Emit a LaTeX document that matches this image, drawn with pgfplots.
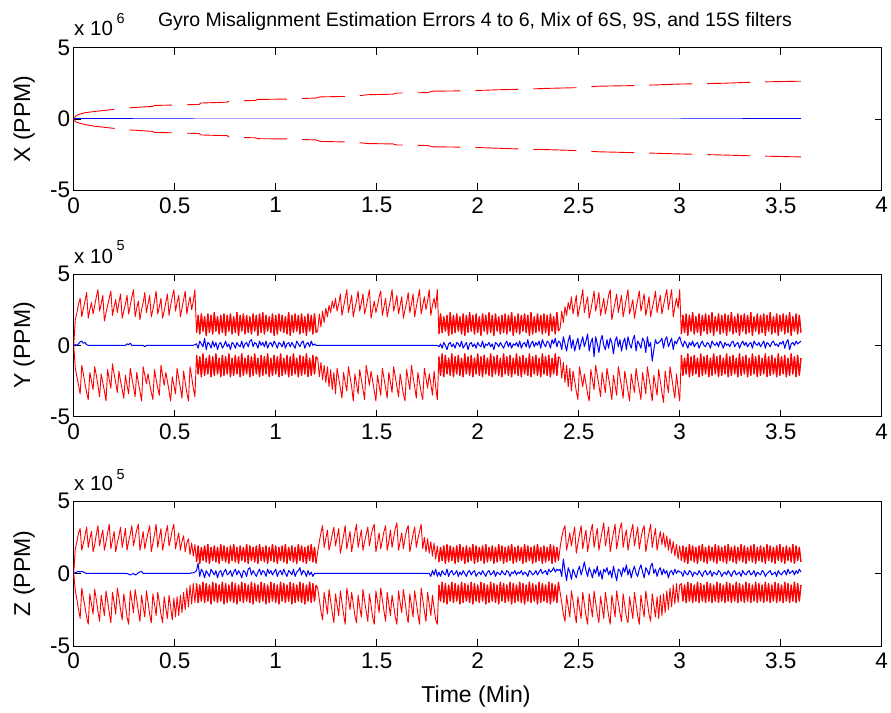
\documentclass[border=0pt]{standalone}
\usepackage{fontspec}
\setmainfont{Liberation Sans}
\usepackage{pgfplots}
\usepackage{pgfplotstable}
\pgfplotsset{compat=1.18}

% ---------- Y subplot (x1e5), sampled every 0.008 min ----------
\pgfplotstableread[header=false,row sep=\\]{
0\\
1.8\\2.3\\2.9\\3.3\\2.0\\2.6\\3.1\\3.7\\1.9\\2.5\\
3.0\\2.2\\2.8\\3.4\\3.9\\2.4\\2.9\\3.5\\1.7\\2.3\\
2.8\\3.3\\3.8\\2.1\\2.7\\3.2\\2.3\\3.0\\3.6\\1.9\\
2.4\\2.9\\3.5\\2.2\\2.8\\3.4\\3.9\\2.0\\2.6\\3.1\\
1.8\\2.5\\3.0\\3.7\\2.3\\2.9\\3.5\\2.0\\2.5\\3.1\\
3.8\\2.2\\2.7\\3.3\\1.9\\2.4\\3.0\\3.6\\2.1\\2.8\\
3.4\\3.9\\2.4\\3.0\\3.5\\2.0\\2.6\\3.2\\3.8\\2.2\\
2.9\\3.4\\2.5\\3.1\\3.9\\
0.9\\2.1\\0.8\\2.2\\1.0\\2.0\\0.7\\2.2\\0.9\\2.1\\
0.8\\2.3\\1.0\\2.0\\0.8\\2.1\\0.9\\2.2\\0.7\\2.1\\
1.0\\2.2\\0.8\\2.0\\0.9\\2.3\\0.7\\2.1\\1.0\\2.2\\
0.8\\2.1\\0.9\\2.0\\0.8\\2.2\\1.0\\2.1\\0.7\\2.2\\
0.9\\2.3\\0.8\\2.1\\1.0\\2.0\\0.9\\2.2\\0.7\\2.1\\
0.8\\2.2\\1.0\\2.1\\0.9\\2.0\\0.8\\2.3\\0.7\\2.1\\
0.9\\2.2\\1.0\\2.1\\0.8\\2.2\\0.9\\2.0\\0.7\\2.2\\
1.0\\2.1\\0.8\\2.2\\0.9\\
1.0\\2.2\\1.3\\2.4\\1.6\\2.6\\2.0\\2.8\\2.3\\3.1\\
2.6\\3.3\\2.4\\2.9\\3.6\\2.1\\2.7\\3.3\\3.9\\2.3\\
2.9\\3.5\\2.0\\2.6\\3.1\\3.8\\2.4\\3.0\\3.6\\2.2\\
2.7\\3.3\\3.9\\1.9\\2.5\\3.1\\2.3\\2.8\\3.4\\3.8\\
2.1\\2.7\\3.3\\2.0\\2.6\\3.2\\3.9\\2.4\\2.9\\3.5\\
2.2\\2.8\\3.4\\1.9\\2.5\\3.0\\3.7\\2.3\\2.9\\3.6\\
2.0\\2.7\\3.3\\3.9\\2.2\\2.8\\3.4\\2.5\\3.1\\3.9\\
2.1\\2.8\\3.3\\2.6\\3.9\\
0.8\\2.2\\0.9\\2.0\\1.0\\2.1\\0.7\\2.3\\0.8\\2.1\\
0.9\\2.2\\1.0\\2.0\\0.8\\2.2\\0.7\\2.1\\0.9\\2.3\\
1.0\\2.1\\0.8\\2.2\\0.9\\2.0\\0.7\\2.2\\1.0\\2.1\\
0.8\\2.3\\0.9\\2.1\\0.7\\2.2\\1.0\\2.0\\0.8\\2.1\\
0.9\\2.2\\0.8\\2.1\\1.0\\2.3\\0.7\\2.0\\0.9\\2.2\\
0.8\\2.1\\1.0\\2.2\\0.9\\2.1\\0.7\\2.3\\0.8\\2.0\\
0.9\\2.2\\1.0\\2.1\\0.8\\2.2\\0.9\\2.1\\0.7\\2.2\\
1.0\\2.0\\0.8\\2.3\\1.0\\
1.2\\2.4\\1.6\\2.7\\2.1\\3.0\\2.5\\3.4\\2.2\\2.8\\
3.5\\2.0\\2.6\\3.2\\3.9\\2.3\\2.9\\3.4\\1.9\\2.5\\
3.1\\3.8\\2.4\\3.0\\3.7\\2.1\\2.7\\3.3\\2.2\\2.8\\
3.5\\3.9\\1.8\\2.4\\3.0\\3.6\\2.3\\2.9\\3.5\\2.0\\
2.6\\3.3\\3.9\\2.2\\2.7\\3.2\\1.9\\2.6\\3.2\\3.8\\
2.4\\3.0\\3.6\\2.1\\2.7\\3.4\\2.0\\2.6\\3.1\\3.8\\
2.3\\2.9\\3.5\\2.2\\2.8\\3.4\\3.9\\2.5\\3.2\\3.9\\
2.0\\2.7\\3.3\\2.6\\3.9\\
0.8\\2.1\\0.9\\2.2\\0.7\\2.1\\1.0\\2.3\\0.8\\2.0\\
0.9\\2.2\\0.7\\2.1\\1.0\\2.2\\0.8\\2.1\\0.9\\2.3\\
0.7\\2.0\\1.0\\2.2\\0.8\\2.1\\0.9\\2.2\\0.7\\2.1\\
1.0\\2.3\\0.8\\2.0\\0.9\\2.2\\0.7\\2.1\\1.0\\2.2\\
0.8\\2.1\\0.9\\2.3\\0.7\\2.0\\1.0\\2.2\\0.8\\2.1\\
0.9\\2.2\\0.7\\2.1\\1.0\\2.3\\0.8\\2.0\\0.9\\2.2\\
0.7\\2.1\\1.0\\2.2\\0.8\\2.1\\0.9\\2.3\\0.7\\2.0\\
1.0\\2.2\\0.8\\2.1\\0.9\\
}\YU

\pgfplotstableread[header=false,row sep=\\]{
0\\
-1.6\\-2.2\\-2.8\\-3.4\\-1.4\\-2.0\\-2.7\\-3.3\\-3.8\\-1.9\\
-2.5\\-3.1\\-1.5\\-2.1\\-2.8\\-3.6\\-2.0\\-2.6\\-3.2\\-3.9\\
-1.7\\-2.4\\-3.0\\-1.3\\-2.0\\-2.6\\-3.3\\-1.8\\-2.5\\-3.1\\
-3.7\\-2.1\\-2.8\\-3.4\\-1.6\\-2.3\\-2.9\\-3.6\\-1.9\\-2.6\\
-3.2\\-3.9\\-1.5\\-2.1\\-2.7\\-2.0\\-2.7\\-3.3\\-3.8\\-1.7\\
-2.4\\-3.0\\-3.5\\-1.4\\-2.1\\-2.8\\-1.9\\-2.5\\-3.2\\-3.9\\
-2.2\\-2.8\\-3.4\\-1.6\\-2.3\\-3.0\\-3.7\\-1.8\\-2.6\\-3.3\\
-3.9\\-1.5\\-2.2\\-3.0\\-3.6\\
-0.7\\-2.0\\-0.8\\-2.2\\-0.6\\-2.1\\-0.9\\-2.0\\-0.7\\-2.2\\
-0.8\\-2.1\\-0.6\\-2.0\\-0.9\\-2.2\\-0.7\\-2.1\\-0.8\\-2.0\\
-0.6\\-2.2\\-0.9\\-2.1\\-0.7\\-2.0\\-0.8\\-2.2\\-0.6\\-2.1\\
-0.9\\-2.0\\-0.7\\-2.2\\-0.8\\-2.1\\-0.6\\-2.0\\-0.9\\-2.2\\
-0.7\\-2.1\\-0.8\\-2.0\\-0.6\\-2.2\\-0.9\\-2.1\\-0.7\\-2.0\\
-0.8\\-2.2\\-0.6\\-2.1\\-0.9\\-2.0\\-0.7\\-2.2\\-0.8\\-2.1\\
-0.6\\-2.0\\-0.9\\-2.2\\-0.7\\-2.1\\-0.8\\-2.0\\-0.6\\-2.2\\
-0.9\\-2.1\\-0.7\\-2.0\\-0.8\\
-0.9\\-2.2\\-1.2\\-2.4\\-1.4\\-2.6\\-1.5\\-2.9\\-1.7\\-3.1\\
-1.9\\-3.4\\-1.6\\-2.3\\-3.0\\-3.7\\-1.9\\-2.6\\-3.2\\-1.5\\
-2.2\\-2.9\\-3.9\\-2.0\\-2.7\\-3.4\\-1.7\\-2.4\\-3.1\\-3.8\\
-1.4\\-2.1\\-2.8\\-1.8\\-2.5\\-3.2\\-3.9\\-2.1\\-2.8\\-3.5\\
-1.6\\-2.3\\-3.0\\-3.7\\-1.9\\-2.6\\-3.3\\-1.5\\-2.2\\-2.9\\
-3.6\\-2.0\\-2.7\\-3.4\\-3.9\\-1.7\\-2.4\\-3.1\\-1.4\\-2.2\\
-2.9\\-3.7\\-1.9\\-2.6\\-3.3\\-3.8\\-1.6\\-2.3\\-3.0\\-2.0\\
-2.7\\-3.5\\-1.8\\-2.9\\-3.8\\
-0.8\\-2.1\\-0.6\\-2.2\\-0.7\\-2.0\\-0.9\\-2.1\\-0.6\\-2.2\\
-0.8\\-2.0\\-0.7\\-2.1\\-0.9\\-2.2\\-0.6\\-2.0\\-0.8\\-2.1\\
-0.7\\-2.2\\-0.9\\-2.0\\-0.6\\-2.1\\-0.8\\-2.2\\-0.7\\-2.0\\
-0.9\\-2.1\\-0.6\\-2.2\\-0.8\\-2.0\\-0.7\\-2.1\\-0.9\\-2.2\\
-0.6\\-2.0\\-0.8\\-2.1\\-0.7\\-2.2\\-0.9\\-2.0\\-0.6\\-2.1\\
-0.8\\-2.2\\-0.7\\-2.0\\-0.9\\-2.1\\-0.6\\-2.2\\-0.8\\-2.0\\
-0.7\\-2.1\\-0.9\\-2.2\\-0.6\\-2.0\\-0.8\\-2.1\\-0.7\\-2.2\\
-0.9\\-2.0\\-0.6\\-2.1\\-0.8\\
-0.9\\-2.3\\-1.2\\-2.6\\-1.4\\-2.9\\-1.6\\-3.2\\-1.8\\-2.5\\
-3.2\\-3.8\\-1.5\\-2.2\\-2.9\\-2.0\\-2.7\\-3.4\\-3.9\\-1.7\\
-2.4\\-3.1\\-1.4\\-2.1\\-2.8\\-3.6\\-1.9\\-2.6\\-3.3\\-1.6\\
-2.3\\-3.0\\-3.8\\-2.1\\-2.8\\-3.5\\-1.5\\-2.2\\-2.9\\-3.7\\
-1.8\\-2.5\\-3.2\\-3.9\\-2.0\\-2.7\\-3.3\\-1.6\\-2.4\\-3.1\\
-3.8\\-1.9\\-2.6\\-3.4\\-1.5\\-2.3\\-3.0\\-3.9\\-2.1\\-2.8\\
-3.5\\-1.7\\-2.5\\-3.3\\-4.0\\-1.8\\-2.6\\-3.3\\-1.5\\-2.2\\
-3.0\\-3.7\\-2.0\\-3.0\\-3.9\\
-0.7\\-2.1\\-0.9\\-2.0\\-0.6\\-2.2\\-0.8\\-2.1\\-0.7\\-2.0\\
-0.9\\-2.2\\-0.6\\-2.1\\-0.8\\-2.0\\-0.7\\-2.2\\-0.9\\-2.1\\
-0.6\\-2.0\\-0.8\\-2.2\\-0.7\\-2.1\\-0.9\\-2.0\\-0.6\\-2.2\\
-0.8\\-2.1\\-0.7\\-2.0\\-0.9\\-2.2\\-0.6\\-2.1\\-0.8\\-2.0\\
-0.7\\-2.2\\-0.9\\-2.1\\-0.6\\-2.0\\-0.8\\-2.2\\-0.7\\-2.1\\
-0.9\\-2.0\\-0.6\\-2.2\\-0.8\\-2.1\\-0.7\\-2.0\\-0.9\\-2.2\\
-0.6\\-2.1\\-0.8\\-2.0\\-0.7\\-2.2\\-0.9\\-2.1\\-0.6\\-2.0\\
-0.8\\-2.2\\-0.7\\-2.1\\-0.9\\
}\YL

\pgfplotstableread[header=false,row sep=\\]{
0\\
0.05\\0\\0.1\\0.25\\0.3\\0.15\\0.2\\0.05\\0\\0\\
0\\0\\0\\0\\0\\0\\0\\0\\0\\0\\
0\\0\\0\\0\\0\\0\\0\\0\\0\\0\\
0\\0\\0.1\\0.05\\0.15\\0\\0\\0\\0\\0\\
0\\0\\0\\-0.1\\0\\0\\0\\0\\0\\0\\
0\\0\\0\\0\\0\\0\\0\\0\\0\\0\\
0\\0\\0\\0\\0\\0\\0\\0\\0\\0\\
0\\0\\0\\0\\0.05\\
0.1\\-0.2\\0.3\\0.1\\-0.1\\0.5\\-0.3\\0.2\\0.1\\-0.2\\
0.3\\-0.1\\0.2\\-0.3\\0.1\\0.2\\-0.2\\0.0\\0.3\\-0.1\\
0.1\\-0.3\\0.2\\0.1\\-0.2\\0.2\\0.0\\-0.1\\0.3\\-0.2\\
0.1\\0.2\\-0.1\\0.3\\0.4\\-0.1\\0.2\\0.1\\-0.2\\0.3\\
0.0\\0.2\\-0.1\\0.3\\-0.2\\0.1\\0.2\\-0.1\\0.3\\0.1\\
-0.2\\0.2\\0.1\\-0.1\\0.3\\-0.2\\0.1\\0.2\\-0.1\\0.2\\
0.0\\-0.2\\0.3\\0.1\\-0.1\\0.2\\0.3\\-0.2\\0.1\\0.2\\
-0.1\\0.3\\0.0\\0.1\\0.0\\
0\\0\\0\\0\\0\\0\\0\\0\\0\\0\\
0\\0\\0\\0\\0\\0\\0\\0\\0\\0\\
0\\0\\0\\0\\0\\0\\0\\0\\0\\0\\
0\\0\\0\\0\\0\\0\\0\\0\\0\\0\\
0\\0\\0\\0\\0\\0\\0\\0\\0\\0\\
0\\0\\0\\0\\0\\0\\0\\0\\0\\0\\
0\\0\\0\\0\\0\\0\\0\\0\\0\\0\\
0\\0\\0\\0\\0\\
-0.1\\0.1\\-0.2\\0.2\\0.0\\-0.3\\0.1\\0.2\\-0.1\\0.1\\
-0.2\\0.2\\0.1\\-0.1\\0.3\\-0.2\\0.0\\0.2\\-0.3\\0.1\\
0.2\\-0.1\\0.1\\-0.2\\0.2\\0.0\\-0.1\\0.3\\-0.2\\0.1\\
0.0\\0.2\\-0.1\\0.1\\-0.3\\0.2\\0.1\\-0.1\\0.2\\0.0\\
-0.2\\0.1\\0.3\\-0.1\\0.2\\-0.2\\0.1\\0.0\\0.2\\-0.1\\
0.3\\-0.2\\0.1\\0.2\\-0.1\\0.4\\-0.2\\0.1\\0.3\\-0.1\\
0.2\\0.0\\0.3\\-0.2\\0.4\\0.1\\-0.1\\0.3\\0.2\\-0.2\\
0.4\\0.1\\0.5\\-0.1\\0.3\\
0.2\\-0.3\\0.6\\0.1\\-0.4\\0.3\\0.7\\-0.2\\0.4\\-0.4\\
0.1\\0.5\\-0.3\\0.2\\0.6\\-0.1\\0.3\\0.8\\-0.4\\0.2\\
0.5\\-0.8\\0.6\\0.1\\-0.5\\0.3\\0.7\\0.0\\-0.3\\0.4\\
-0.2\\0.5\\0.2\\-0.6\\0.3\\0.6\\-0.1\\0.4\\-0.4\\0.2\\
0.5\\-0.3\\0.6\\0.1\\-0.2\\0.4\\0.7\\-0.4\\0.3\\0.1\\
-0.2\\0.5\\0.3\\-0.5\\0.6\\-0.1\\0.2\\-1.1\\-0.3\\0.4\\
0.1\\0.2\\0.3\\0.5\\-0.2\\0.4\\0.6\\-0.1\\0.2\\0.5\\
-0.3\\0.3\\0.1\\0.4\\0.6\\
0.2\\-0.1\\0.3\\0.1\\-0.2\\0.2\\0.0\\0.3\\-0.1\\0.1\\
0.2\\-0.2\\0.1\\0.3\\0.0\\-0.1\\0.2\\0.1\\-0.2\\0.3\\
0.1\\0.0\\0.2\\-0.1\\0.3\\0.1\\-0.2\\0.2\\0.0\\0.1\\
-0.1\\0.2\\0.3\\-0.1\\0.1\\0.2\\-0.2\\0.1\\0.3\\0.0\\
0.2\\-0.1\\0.1\\0.2\\-0.2\\0.3\\0.1\\0.0\\0.2\\-0.1\\
0.1\\0.3\\-0.2\\0.2\\0.1\\-0.1\\0.2\\0.3\\0.0\\0.1\\
-0.1\\0.2\\0.1\\0.3\\-0.2\\0.2\\0.4\\-0.3\\0.1\\0.2\\
0.0\\0.3\\0.1\\0.2\\0.3\\
}\YB

% ---------- Z subplot (x1e5) ----------
\pgfplotstableread[header=false,row sep=\\]{
0\\
1.7\\2.2\\2.8\\3.1\\1.6\\2.1\\2.6\\3.2\\1.8\\2.4\\
2.9\\1.5\\2.0\\2.7\\3.3\\1.9\\2.5\\3.0\\1.6\\2.2\\
2.8\\3.4\\1.7\\2.3\\2.9\\1.5\\2.1\\2.6\\3.2\\1.8\\
2.4\\3.1\\1.6\\2.2\\2.7\\3.3\\1.9\\2.5\\3.0\\3.4\\
1.6\\2.2\\2.9\\1.7\\2.3\\2.8\\3.3\\1.5\\2.1\\2.7\\
3.4\\1.8\\2.5\\3.1\\1.6\\2.2\\2.8\\3.3\\1.9\\2.4\\
3.0\\3.4\\1.7\\2.3\\2.8\\1.6\\2.2\\2.6\\1.5\\2.1\\
2.4\\1.3\\2.1\\1.2\\2.0\\
0.8\\1.9\\0.7\\1.8\\0.9\\1.9\\0.8\\2.0\\0.7\\1.8\\
0.9\\1.9\\0.8\\1.8\\0.7\\2.0\\0.9\\1.9\\0.8\\1.8\\
0.7\\1.9\\0.9\\2.0\\0.8\\1.8\\0.7\\1.9\\0.9\\1.8\\
0.8\\2.0\\0.7\\1.9\\0.9\\1.8\\0.8\\1.9\\0.7\\2.0\\
0.9\\1.8\\0.8\\1.9\\0.7\\1.8\\0.9\\2.0\\0.8\\1.9\\
0.7\\1.8\\0.9\\1.9\\0.8\\2.0\\0.7\\1.8\\0.9\\1.9\\
0.8\\1.8\\0.7\\2.0\\0.9\\1.9\\0.8\\1.8\\0.7\\1.9\\
0.9\\2.0\\0.8\\1.8\\0.7\\
1.5\\2.2\\2.8\\3.3\\1.8\\2.4\\3.0\\1.6\\2.1\\2.7\\
3.2\\1.9\\2.5\\3.1\\1.4\\2.0\\2.6\\3.3\\1.7\\2.3\\
2.9\\1.5\\2.2\\2.8\\3.4\\1.8\\2.4\\3.0\\1.6\\2.2\\
2.7\\3.2\\1.9\\2.6\\3.1\\3.4\\1.5\\2.1\\2.8\\1.7\\
2.3\\2.9\\3.3\\1.6\\2.2\\3.0\\1.8\\2.5\\3.1\\3.5\\
1.6\\2.2\\2.8\\1.7\\2.4\\3.0\\3.3\\1.5\\2.1\\2.7\\
3.2\\1.8\\2.4\\2.9\\3.4\\1.7\\2.5\\1.5\\2.4\\1.4\\
2.2\\1.2\\2.1\\1.0\\1.9\\
0.8\\1.8\\0.9\\1.9\\0.7\\2.0\\0.8\\1.9\\0.9\\1.8\\
0.7\\1.9\\0.8\\2.0\\0.9\\1.8\\0.7\\1.9\\0.8\\1.8\\
0.9\\2.0\\0.7\\1.9\\0.8\\1.8\\0.9\\1.9\\0.7\\2.0\\
0.8\\1.8\\0.9\\1.9\\0.7\\1.8\\0.8\\2.0\\0.9\\1.9\\
0.7\\1.8\\0.8\\1.9\\0.9\\2.0\\0.7\\1.8\\0.8\\1.9\\
0.9\\1.8\\0.7\\2.0\\0.8\\1.9\\0.9\\1.8\\0.7\\1.9\\
0.8\\2.0\\0.9\\1.8\\0.7\\1.9\\0.8\\1.8\\0.9\\2.0\\
0.7\\1.9\\0.8\\1.8\\0.9\\
1.8\\2.5\\3.0\\3.3\\1.6\\2.2\\2.8\\1.9\\2.6\\3.2\\
1.4\\2.1\\2.7\\3.3\\1.7\\2.4\\3.0\\1.5\\2.2\\2.9\\
3.4\\1.8\\2.5\\3.1\\1.6\\2.3\\2.9\\3.5\\1.9\\2.5\\
3.2\\1.5\\2.2\\2.8\\3.4\\1.7\\2.4\\3.1\\3.5\\1.8\\
2.5\\3.0\\1.6\\2.3\\2.9\\3.4\\1.9\\2.6\\3.2\\1.7\\
2.4\\3.0\\3.3\\1.5\\2.2\\2.8\\3.4\\1.8\\2.5\\3.1\\
1.6\\2.3\\2.9\\2.0\\2.8\\1.8\\2.6\\1.6\\2.4\\1.4\\
2.2\\1.2\\2.0\\1.0\\1.9\\
0.9\\1.9\\0.8\\1.8\\0.7\\2.0\\0.9\\1.9\\0.8\\1.8\\
0.7\\1.9\\0.9\\2.0\\0.8\\1.8\\0.7\\1.9\\0.9\\1.8\\
0.8\\2.0\\0.7\\1.9\\0.9\\1.8\\0.8\\1.9\\0.7\\2.0\\
0.9\\1.8\\0.8\\1.9\\0.7\\1.8\\0.9\\2.0\\0.8\\1.9\\
0.7\\1.8\\0.9\\1.9\\0.8\\2.0\\0.7\\1.8\\0.9\\1.9\\
0.8\\1.8\\0.7\\2.0\\0.9\\1.9\\0.8\\1.8\\0.7\\1.9\\
0.9\\2.0\\0.8\\1.8\\0.7\\1.9\\0.9\\1.8\\0.8\\2.0\\
0.7\\1.9\\0.9\\1.8\\0.8\\
}\ZU

\pgfplotstableread[header=false,row sep=\\]{
0\\
-1.2\\-1.8\\-2.5\\-3.1\\-1.0\\-1.7\\-2.3\\-3.0\\-3.5\\-1.4\\
-2.1\\-2.8\\-1.1\\-1.8\\-2.6\\-3.3\\-1.5\\-2.2\\-2.9\\-1.2\\
-1.9\\-2.7\\-3.4\\-1.3\\-2.0\\-2.8\\-1.0\\-1.7\\-2.5\\-3.2\\
-1.4\\-2.2\\-3.0\\-3.5\\-1.2\\-1.9\\-2.7\\-1.1\\-1.8\\-2.6\\
-3.3\\-1.5\\-2.3\\-3.0\\-1.2\\-2.0\\-2.8\\-3.4\\-1.4\\-2.1\\
-2.9\\-1.3\\-2.0\\-2.8\\-3.4\\-1.6\\-2.4\\-3.1\\-1.5\\-2.3\\
-3.2\\-1.7\\-3.0\\-1.6\\-2.9\\-1.5\\-2.7\\-1.3\\-2.5\\-1.0\\
-2.3\\-0.8\\-2.1\\-0.7\\-2.0\\
-0.7\\-2.0\\-0.8\\-1.9\\-0.6\\-2.0\\-0.7\\-1.9\\-0.8\\-2.1\\
-0.6\\-1.9\\-0.7\\-2.0\\-0.8\\-1.9\\-0.6\\-2.1\\-0.7\\-2.0\\
-0.8\\-1.9\\-0.6\\-2.0\\-0.7\\-2.1\\-0.8\\-1.9\\-0.6\\-2.0\\
-0.7\\-1.9\\-0.8\\-2.0\\-0.6\\-2.1\\-0.7\\-1.9\\-0.8\\-2.0\\
-0.6\\-1.9\\-0.7\\-2.1\\-0.8\\-2.0\\-0.6\\-1.9\\-0.7\\-2.0\\
-0.8\\-2.1\\-0.6\\-1.9\\-0.7\\-2.0\\-0.8\\-1.9\\-0.6\\-2.1\\
-0.7\\-2.0\\-0.8\\-1.9\\-0.6\\-2.0\\-0.7\\-2.1\\-0.8\\-1.9\\
-0.6\\-2.0\\-0.7\\-1.9\\-0.8\\
-1.0\\-1.8\\-2.6\\-3.2\\-1.3\\-2.0\\-2.8\\-1.1\\-1.9\\-2.7\\
-3.4\\-1.4\\-2.2\\-2.9\\-1.2\\-2.0\\-2.8\\-3.5\\-1.0\\-1.7\\
-2.5\\-1.3\\-2.1\\-2.9\\-3.4\\-1.5\\-2.3\\-3.0\\-1.1\\-1.9\\
-2.6\\-3.3\\-1.4\\-2.2\\-3.0\\-3.5\\-1.2\\-1.9\\-2.7\\-1.0\\
-1.8\\-2.6\\-3.3\\-1.3\\-2.1\\-2.9\\-1.5\\-2.2\\-3.0\\-3.5\\
-1.2\\-2.0\\-2.7\\-1.1\\-1.9\\-2.8\\-3.4\\-1.4\\-2.2\\-3.0\\
-1.2\\-2.0\\-2.8\\-3.5\\-1.0\\-1.8\\-2.6\\-3.3\\-1.3\\-2.1\\
-2.9\\-1.5\\-2.4\\-3.2\\-3.5\\
-0.8\\-1.9\\-0.6\\-2.0\\-0.7\\-2.1\\-0.8\\-1.9\\-0.6\\-2.0\\
-0.7\\-1.9\\-0.8\\-2.1\\-0.6\\-2.0\\-0.7\\-1.9\\-0.8\\-2.0\\
-0.6\\-2.1\\-0.7\\-1.9\\-0.8\\-2.0\\-0.6\\-1.9\\-0.7\\-2.1\\
-0.8\\-2.0\\-0.6\\-1.9\\-0.7\\-2.0\\-0.8\\-2.1\\-0.6\\-1.9\\
-0.7\\-2.0\\-0.8\\-1.9\\-0.6\\-2.1\\-0.7\\-2.0\\-0.8\\-1.9\\
-0.6\\-2.0\\-0.7\\-2.1\\-0.8\\-1.9\\-0.6\\-2.0\\-0.7\\-1.9\\
-0.8\\-2.1\\-0.6\\-2.0\\-0.7\\-1.9\\-0.8\\-2.0\\-0.6\\-2.1\\
-0.7\\-1.9\\-0.8\\-2.0\\-0.6\\
-1.3\\-2.0\\-2.8\\-3.3\\-1.5\\-2.3\\-3.0\\-1.2\\-1.9\\-2.7\\
-3.4\\-1.6\\-2.4\\-3.1\\-1.3\\-2.1\\-2.9\\-3.5\\-1.4\\-2.2\\
-3.0\\-1.2\\-2.0\\-2.8\\-3.4\\-1.6\\-2.3\\-3.1\\-1.3\\-2.1\\
-2.9\\-3.5\\-1.5\\-2.2\\-3.0\\-1.2\\-2.0\\-2.7\\-3.3\\-1.4\\
-2.2\\-3.0\\-3.4\\-1.6\\-2.4\\-3.1\\-1.3\\-2.1\\-2.9\\-3.5\\
-1.5\\-2.3\\-3.0\\-1.2\\-2.0\\-2.8\\-3.3\\-1.4\\-2.2\\-3.0\\
-1.6\\-3.1\\-1.5\\-2.9\\-1.4\\-2.7\\-1.2\\-2.5\\-1.0\\-2.3\\
-0.8\\-2.1\\-0.7\\-2.0\\-0.8\\
-0.7\\-1.9\\-0.8\\-2.0\\-0.6\\-1.9\\-0.7\\-2.0\\-0.8\\-1.9\\
-0.6\\-2.0\\-0.7\\-1.9\\-0.8\\-2.0\\-0.6\\-1.9\\-0.7\\-2.0\\
-0.8\\-1.9\\-0.6\\-2.0\\-0.7\\-1.9\\-0.8\\-2.0\\-0.6\\-1.9\\
-0.7\\-2.0\\-0.8\\-1.9\\-0.6\\-2.0\\-0.7\\-1.9\\-0.8\\-2.0\\
-0.6\\-1.9\\-0.7\\-2.0\\-0.8\\-1.9\\-0.6\\-2.0\\-0.7\\-1.9\\
-0.8\\-2.0\\-0.6\\-1.9\\-0.7\\-2.0\\-0.8\\-1.9\\-0.6\\-2.0\\
-0.7\\-1.9\\-0.8\\-2.0\\-0.6\\-1.9\\-0.7\\-2.0\\-0.8\\-1.9\\
-0.6\\-2.0\\-0.7\\-1.9\\-0.8\\
}\ZL

\pgfplotstableread[header=false,row sep=\\]{
0\\
0.05\\0.1\\0.15\\0.1\\0.15\\0.1\\0.05\\0\\0\\0\\
0\\0\\0\\0\\0\\0\\0\\0\\0\\0\\
0\\0\\0\\0\\0\\0\\0\\0\\0\\0\\
0\\0\\0\\-0.05\\-0.1\\-0.05\\0\\-0.1\\-0.05\\0.05\\
0.1\\0.15\\0\\0\\0\\0\\0\\0\\0\\0\\
0\\0\\0\\0\\0\\0\\0\\0\\0\\0\\
0\\0\\0\\0\\0\\0\\0\\0\\0\\0\\
0\\0\\0.05\\0.05\\0.1\\
0.2\\0.7\\-0.2\\0.3\\0.1\\-0.3\\0.2\\0.0\\-0.2\\0.3\\
0.1\\-0.1\\0.2\\-0.3\\0.1\\0.2\\-0.2\\0.1\\0.3\\-0.1\\
0.0\\0.2\\-0.2\\0.1\\0.3\\-0.1\\0.2\\0.0\\-0.3\\0.2\\
0.1\\-0.2\\0.3\\0.4\\-0.1\\0.2\\0.0\\-0.2\\0.1\\0.3\\
-0.1\\0.2\\0.1\\-0.2\\0.3\\0.0\\0.2\\-0.1\\0.1\\0.3\\
-0.2\\0.1\\0.2\\-0.1\\0.3\\0.0\\-0.2\\0.2\\0.1\\-0.1\\
0.3\\-0.2\\0.1\\0.2\\0.4\\-0.1\\0.2\\0.1\\-0.2\\0.2\\
-0.1\\0.1\\-0.2\\0.0\\0.0\\
0\\0\\0\\0\\0\\0\\0\\0\\0\\0\\
0\\0\\0\\0\\0\\0\\0\\0\\0\\0\\
0\\0\\0\\0\\0\\0\\0\\0\\0\\0\\
0\\0\\0\\0\\0\\0\\0\\0\\0\\0\\
0\\0\\0\\0\\0\\0\\0\\0\\0\\0\\
0\\0\\0\\0\\0\\0\\0\\0\\0\\0\\
0\\0\\0\\0\\0\\0\\0\\0\\0\\0\\
-0.2\\0.2\\-0.1\\0.3\\-0.2\\
0.1\\-0.2\\0.2\\0.0\\-0.1\\0.3\\-0.2\\0.1\\0.2\\-0.1\\
0.0\\0.2\\-0.2\\0.1\\-0.1\\0.2\\0.0\\-0.2\\0.1\\0.2\\
-0.1\\0.1\\0.2\\-0.2\\0.0\\0.1\\-0.1\\0.2\\0.0\\-0.2\\
0.1\\0.2\\-0.1\\0.0\\0.2\\-0.2\\0.1\\0.0\\-0.1\\0.2\\
0.0\\-0.1\\0.2\\0.1\\-0.2\\0.1\\0.0\\0.2\\-0.1\\0.1\\
0.0\\0.2\\-0.1\\0.1\\0.0\\-0.2\\0.2\\0.1\\-0.1\\0.0\\
0.2\\-0.1\\0.1\\0.3\\0.0\\0.1\\0.2\\-0.1\\0.3\\0.1\\
0.2\\0.4\\0.1\\0.3\\0.2\\
0.3\\-0.2\\1.0\\0.2\\-0.5\\0.4\\0.1\\-0.4\\0.3\\0.0\\
-0.3\\0.2\\0.5\\-0.1\\0.3\\0.8\\0.2\\-0.2\\0.4\\0.1\\
-0.3\\0.3\\0.0\\0.5\\-0.2\\0.2\\-0.4\\0.3\\0.1\\0.4\\
-0.1\\0.2\\-0.3\\0.5\\0.0\\-0.5\\0.3\\0.2\\-0.2\\0.4\\
0.1\\0.6\\-0.1\\0.3\\-0.3\\0.2\\0.5\\0.0\\-0.2\\0.3\\
0.6\\0.1\\-0.3\\0.4\\0.2\\-0.1\\0.5\\0.7\\0.0\\0.3\\
-0.2\\0.2\\0.4\\-0.1\\0.3\\0.0\\0.2\\-0.3\\0.1\\0.2\\
-0.1\\0.3\\0.0\\0.2\\0.1\\
0.1\\-0.2\\0.2\\0.0\\-0.1\\0.2\\0.1\\-0.2\\0.1\\0.0\\
-0.1\\0.2\\0.0\\-0.2\\0.1\\0.2\\-0.1\\0.0\\0.2\\-0.2\\
0.1\\0.0\\-0.1\\0.2\\0.1\\-0.2\\0.0\\0.1\\-0.1\\0.2\\
0.0\\-0.2\\0.1\\0.2\\-0.1\\0.0\\0.1\\-0.2\\0.2\\0.0\\
-0.1\\0.1\\0.2\\-0.1\\0.0\\0.2\\-0.2\\0.1\\0.0\\-0.1\\
0.2\\0.1\\-0.2\\0.0\\0.1\\0.2\\-0.1\\0.0\\0.1\\-0.2\\
0.2\\0.0\\-0.1\\0.1\\0.2\\-0.1\\0.3\\0.0\\0.1\\0.2\\
-0.1\\0.2\\0.0\\0.3\\0.1\\
}\ZB

\definecolor{mred}{RGB}{255,0,0}
\definecolor{mblue}{RGB}{0,0,255}

\pgfplotsset{
  matax/.style={
    scale only axis, width=808pt, anchor=south west,
    xmin=0, xmax=4, ymin=-5, ymax=5,
    xtick={0,0.5,1,1.5,2,2.5,3,3.5,4},
    xticklabels={0,0.5,1,1.5,2,2.5,3,3.5,4},
    ytick={-5,0,5}, yticklabels={-5,0,5},
    tick align=inside, tick pos=both,
    major tick length=7pt,
    tick style={black, line width=0.6pt},
    axis line style={black, line width=0.8pt},
    ticklabel style={font=\fontsize{22.5}{22.5}\selectfont},
    xticklabel style={yshift=-3.5pt},
  },
  redl/.style={draw=mred, line width=0.9pt, line join=round},
  redb/.style={draw=mred, line width=1.35pt, line join=round},
  bluel/.style={draw=mblue, line width=1.0pt, line join=round},
}

\begin{document}
\begin{tikzpicture}
\path[use as bounding box] (0pt,0pt) rectangle (891pt,712pt);

% ---------------- X subplot ----------------
\begin{axis}[matax, at={(73.7pt,521.7pt)}, height=142.6pt]
\addplot[redl, dash pattern=on 43pt off 15pt] coordinates {
(0,0) (0.01,0.2) (0.03,0.35) (0.06,0.45) (0.1,0.52) (0.15,0.6) (0.2,0.68)
(0.27,0.78) (0.35,0.85) (0.39,0.88) (0.4,0.95) (0.5,0.98) (0.62,1.02) (0.63,1.12)
(0.76,1.18) (0.77,1.26) (0.9,1.3) (0.91,1.37) (1.06,1.4) (1.2,1.47) (1.22,1.55)
(1.4,1.6) (1.45,1.7) (1.58,1.74) (1.6,1.82) (1.75,1.85) (1.78,1.95) (1.96,1.98)
(2.1,2.05) (2.2,2.08) (2.35,2.15) (2.5,2.2) (2.6,2.3) (2.8,2.35) (3.0,2.45)
(3.2,2.5) (3.4,2.6) (3.6,2.65)};
\addplot[redl, dash pattern=on 43pt off 15pt] coordinates {
(0,0) (0.01,-0.2) (0.03,-0.3) (0.06,-0.4) (0.1,-0.5) (0.15,-0.58) (0.2,-0.66)
(0.27,-0.76) (0.35,-0.83) (0.39,-0.87) (0.4,-0.94) (0.5,-0.97) (0.62,-1.02) (0.63,-1.12)
(0.76,-1.17) (0.77,-1.28) (0.9,-1.32) (0.91,-1.38) (1.06,-1.4) (1.2,-1.47) (1.22,-1.57)
(1.4,-1.63) (1.45,-1.72) (1.58,-1.75) (1.6,-1.82) (1.75,-1.86) (1.78,-1.95) (1.96,-1.98)
(2.1,-2.05) (2.2,-2.1) (2.35,-2.15) (2.5,-2.22) (2.6,-2.3) (2.8,-2.37) (3.0,-2.45)
(3.2,-2.52) (3.4,-2.6) (3.6,-2.66)};
\addplot[bluel] coordinates {(0,0) (0.6,0) (1.2,0) (1.8,0) (2.4,0) (3.0,0) (3.6,0)};
\end{axis}

% ---------------- Y subplot ----------------
\begin{axis}[matax, at={(73.7pt,295.3pt)}, height=142.7pt]
\addplot[redl] table[x expr=\coordindex*0.008, y index=0] {\YU};
\addplot[redl] table[x expr=\coordindex*0.008, y index=0] {\YL};
\addplot[redb, restrict x to domain=0.605:1.2] table[x expr=\coordindex*0.008, y index=0] {\YU};
\addplot[redb, restrict x to domain=1.805:2.4] table[x expr=\coordindex*0.008, y index=0] {\YU};
\addplot[redb, restrict x to domain=3.005:3.6] table[x expr=\coordindex*0.008, y index=0] {\YU};
\addplot[redb, restrict x to domain=0.605:1.2] table[x expr=\coordindex*0.008, y index=0] {\YL};
\addplot[redb, restrict x to domain=1.805:2.4] table[x expr=\coordindex*0.008, y index=0] {\YL};
\addplot[redb, restrict x to domain=3.005:3.6] table[x expr=\coordindex*0.008, y index=0] {\YL};
\addplot[bluel] table[x expr=\coordindex*0.008, y index=0] {\YB};
\end{axis}

% ---------------- Z subplot ----------------
\begin{axis}[matax, at={(73.7pt,66pt)}, height=145pt]
\addplot[redl] table[x expr=\coordindex*0.008, y index=0] {\ZU};
\addplot[redl] table[x expr=\coordindex*0.008, y index=0] {\ZL};
\addplot[redb, restrict x to domain=0.605:1.2] table[x expr=\coordindex*0.008, y index=0] {\ZU};
\addplot[redb, restrict x to domain=1.805:2.4] table[x expr=\coordindex*0.008, y index=0] {\ZU};
\addplot[redb, restrict x to domain=3.005:3.6] table[x expr=\coordindex*0.008, y index=0] {\ZU};
\addplot[redb, restrict x to domain=0.605:1.2] table[x expr=\coordindex*0.008, y index=0] {\ZL};
\addplot[redb, restrict x to domain=1.805:2.4] table[x expr=\coordindex*0.008, y index=0] {\ZL};
\addplot[redb, restrict x to domain=3.005:3.6] table[x expr=\coordindex*0.008, y index=0] {\ZL};
\addplot[bluel] table[x expr=\coordindex*0.008, y index=0] {\ZB};
\end{axis}

% ---------------- texts ----------------
\node[anchor=base, inner sep=0pt, font=\fontsize{19.5}{19.5}\selectfont] at (475pt,685.3pt)
  {Gyro Misalignment Estimation Errors 4 to 6, Mix of 6S, 9S, and 15S filters};

\node[anchor=base west, inner sep=0pt, font=\fontsize{20.5}{20.5}\selectfont] at (74pt,676pt) {x 10};
\node[anchor=base west, inner sep=0pt, font=\fontsize{14.5}{14.5}\selectfont] at (116.5pt,688.5pt) {6};
\node[anchor=base west, inner sep=0pt, font=\fontsize{20.5}{20.5}\selectfont] at (74pt,448.7pt) {x 10};
\node[anchor=base west, inner sep=0pt, font=\fontsize{14.5}{14.5}\selectfont] at (116.5pt,461pt) {5};
\node[anchor=base west, inner sep=0pt, font=\fontsize{20.5}{20.5}\selectfont] at (74pt,221pt) {x 10};
\node[anchor=base west, inner sep=0pt, font=\fontsize{14.5}{14.5}\selectfont] at (116.5pt,232.5pt) {5};

\node[anchor=base, rotate=90, inner sep=0pt, font=\fontsize{23}{23}\selectfont] at (30.2pt,593pt) {X (PPM)};
\node[anchor=base, rotate=90, inner sep=0pt, font=\fontsize{23}{23}\selectfont] at (30.2pt,366.5pt) {Y (PPM)};
\node[anchor=base, rotate=90, inner sep=0pt, font=\fontsize{23}{23}\selectfont] at (30.2pt,138.5pt) {Z (PPM)};

\node[anchor=base, inner sep=0pt, font=\fontsize{23}{23}\selectfont] at (476pt,9.3pt) {Time (Min)};
\end{tikzpicture}
\end{document}
